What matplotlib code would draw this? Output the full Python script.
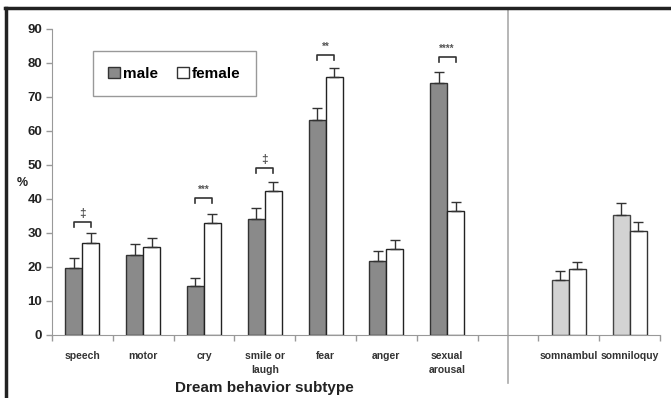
import matplotlib
matplotlib.use("Agg")
import matplotlib.pyplot as plt
from matplotlib.patches import Patch
from matplotlib.lines import Line2D
import numpy as np

plt.rcParams.update({
    "font.family": ["Liberation Sans", "DejaVu Sans"],
    "font.weight": "bold",
    "axes.edgecolor": "#999999",
    "xtick.color": "#999999",
    "ytick.color": "#999999",
})

# dream behaviour subtypes (left panel) and other parasomnias (right panel)
dream_cats = ["speech", "motor", "cry", "smile or\nlaugh", "fear", "anger", "sexual\narousal"]
dream_male = [19.8, 23.4, 14.4, 34.1, 63.2, 21.8, 74.0]
dream_male_err = [2.7, 3.3, 2.5, 3.3, 3.7, 3.0, 3.2]
dream_female = [27.1, 26.0, 32.9, 42.4, 76.0, 25.4, 36.6]
dream_female_err = [2.8, 2.6, 2.8, 2.7, 2.6, 2.5, 2.6]

other_cats = ["somnambul", "somniloquy"]
other_male = [16.2, 35.2]
other_male_err = [2.6, 3.5]
other_female = [19.4, 30.6]
other_female_err = [2.2, 2.7]

# significance markers: category index, symbol, bracket height
sig_idx = [0, 2, 3, 4, 6]
sig_sym = ["\u2021", "***", "\u2021", "**", "****"]
sig_height = [33.3, 40.3, 49.0, 82.4, 81.9]

fig = plt.figure(figsize=(6.71, 3.98), dpi=100)
ax = fig.add_axes([0.0775, 0.1583, 0.906, 0.7689])

w = 0.28
x_dream = np.arange(len(dream_cats))
x_other = np.arange(len(other_cats)) + len(dream_cats) + 1
ekw = dict(ecolor="#333333", elinewidth=1, capsize=3.5, capthick=1)

ax.bar(x_dream - w / 2, dream_male, w, color="#8a8a8a", edgecolor="#333333", lw=1,
       yerr=[np.zeros(len(dream_male)), dream_male_err], error_kw=ekw, zorder=3)
ax.bar(x_dream + w / 2, dream_female, w, color="white", edgecolor="#222222", lw=1,
       yerr=[np.zeros(len(dream_female)), dream_female_err], error_kw=ekw, zorder=3)
ax.bar(x_other - w / 2, other_male, w, color="#d3d3d3", edgecolor="#444444", lw=1,
       yerr=[np.zeros(len(other_male)), other_male_err], error_kw=ekw, zorder=3)
ax.bar(x_other + w / 2, other_female, w, color="white", edgecolor="#333333", lw=1,
       yerr=[np.zeros(len(other_female)), other_female_err], error_kw=ekw, zorder=3)

# brackets with significance symbols
for i, s, h in zip(sig_idx, sig_sym, sig_height):
    x0, x1 = i - w / 2, i + w / 2
    ax.plot([x0, x0, x1, x1], [h - 1.5, h, h, h - 1.5], color="#333333", lw=1.2,
            zorder=4)
    fs = 8.5 if s == "\u2021" else 7
    ax.text(i, h + 2.4, s, ha="center", va="center", fontsize=fs, color="#555555")

ax.set_xlim(-0.5, 9.5)
ax.set_ylim(0, 90)
ax.set_yticks(np.arange(0, 91, 10))
ax.set_xticks(np.arange(-0.5, 9.6, 1))
ax.set_xticklabels([])
ax.tick_params(axis="x", direction="out", length=4, width=1)
ax.tick_params(axis="y", direction="out", length=4, width=1, labelsize=9.5,
               labelcolor="#222222", pad=3)
for lbl in ax.get_yticklabels():
    lbl.set_fontweight("bold")
for side in ["top", "right"]:
    ax.spines[side].set_visible(False)

# category labels under the axis
for xc, name in zip(list(x_dream) + list(x_other), dream_cats + other_cats):
    ax.text(xc, -4.8, name, ha="center", va="top", fontsize=7.5, color="#333333",
            linespacing=1.4, transform=ax.transData, clip_on=False)

ax.text(3, -0.173, "Dream behavior subtype", transform=ax.get_xaxis_transform(),
        ha="center", va="center", fontsize=11, color="#222222")
ax.text(-0.049, 0.497, "%", transform=ax.transAxes, ha="center", va="center",
        fontsize=9, color="#222222")

# divider between the two panels
ax.axvline(7, ymin=-0.157, ymax=1.07, color="#aaaaaa", lw=1.2, clip_on=False)

handles = [Patch(facecolor="#8a8a8a", edgecolor="#333333", label="male"),
           Patch(facecolor="white", edgecolor="#333333", label="female")]
leg = ax.legend(handles=handles, loc="upper left", bbox_to_anchor=(0.067, 0.927),
                ncol=2, fancybox=False, framealpha=1, edgecolor="#999999",
                prop={"size": 11, "weight": "bold"}, handlelength=0.8,
                handleheight=0.8, handletextpad=0.2, columnspacing=1.2,
                borderpad=1.0, borderaxespad=0)
leg.get_frame().set_linewidth(1)

# outer frame lines
fig.add_artist(Line2D([0.008, 1.0], [0.98, 0.98], color="#222222", lw=2.5))
fig.add_artist(Line2D([0.009, 0.009], [0.0, 0.98], color="#222222", lw=2.5))

fig.savefig("out.png", dpi=100)
